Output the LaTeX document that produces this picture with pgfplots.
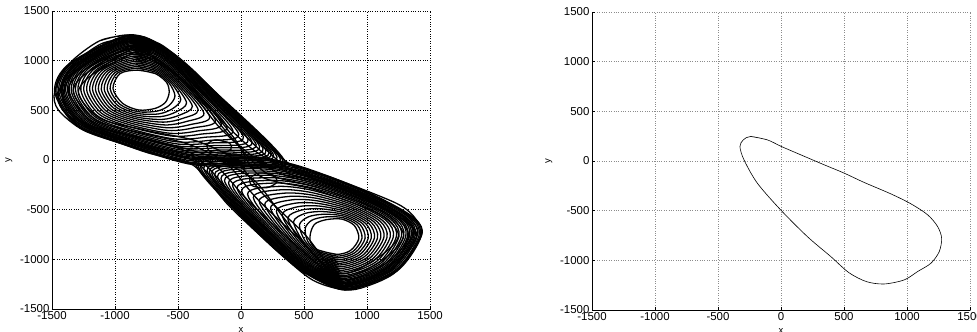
\documentclass[border=0pt]{standalone}
\usepackage{fontspec}
\setmainfont{Liberation Sans}
\usepackage{pgfplots}
\pgfplotsset{compat=1.18}
\pgfplotsset{myax/.style={
  scale only axis, width=378bp, height=298bp,
  xmin=-1500, xmax=1500, ymin=-1500, ymax=1500,
  xtick={-1500,-1000,...,1500}, ytick={-1500,-1000,...,1500},
  axis x line*=bottom, axis y line*=left,
  axis line style={black, line width=0.6pt},
  grid=major,
  tick align=inside, major tick length=3bp,
  tick style={black, line width=0.5pt},
  /pgf/number format/assume math mode=true,
  /pgf/number format/1000 sep={},
  tick label style={font=\fontsize{11.5}{12}\selectfont},
  xticklabel style={yshift=1.5bp},
  yticklabel style={xshift=1bp},
  label style={font=\fontsize{9.5}{10}\selectfont},
  xlabel={x}, ylabel={y},
  xlabel style={yshift=-2bp},
  ylabel style={yshift=1bp},
},
lp/.style={black, line width=1.3pt, smooth, no markers}}
\begin{document}
\begin{tikzpicture}
\path[use as bounding box] (0,0) rectangle (977bp,332bp);
\begin{axis}[myax, at={(52bp,23bp)}, anchor=south west, major grid style={dotted, black, line width=0.5pt}]
% left lobe nested loops
\addplot[lp] coordinates {(-820,905) (-680,870) (-590,780) (-570,680) (-600,580) (-680,520) (-810,503) (-940,570) (-1016,720) (-960,870) (-820,905) (-680,870)};
\addplot[lp] coordinates {(-824,923) (-677,884) (-571,775) (-524,645) (-572,548) (-667,492) (-817,486) (-959,559) (-1039,719) (-980,875) (-824,923) (-677,884)};
\addplot[lp] coordinates {(-828,940) (-674,898) (-551,770) (-478,610) (-544,516) (-654,464) (-824,469) (-977,548) (-1062,717) (-1000,880) (-828,940) (-674,898)};
\addplot[lp] coordinates {(-832,958) (-671,912) (-532,765) (-432,575) (-516,484) (-641,436) (-831,452) (-996,537) (-1086,716) (-1020,886) (-832,958) (-671,912)};
\addplot[lp] coordinates {(-835,976) (-668,926) (-512,760) (-386,540) (-488,452) (-628,408) (-838,435) (-1014,526) (-1109,714) (-1040,891) (-835,976) (-668,926)};
\addplot[lp] coordinates {(-839,994) (-665,940) (-493,755) (-340,505) (-460,420) (-615,381) (-845,419) (-1033,515) (-1132,713) (-1060,896) (-839,994) (-665,940)};
\addplot[lp] coordinates {(-843,1011) (-662,954) (-473,750) (-294,470) (-432,388) (-602,353) (-852,402) (-1051,504) (-1155,711) (-1080,901) (-843,1011) (-662,954)};
\addplot[lp] coordinates {(-847,1029) (-659,968) (-454,745) (-248,435) (-404,356) (-589,325) (-859,385) (-1070,493) (-1178,710) (-1100,906) (-847,1029) (-659,968)};
\addplot[lp] coordinates {(-851,1046) (-656,982) (-434,740) (-202,400) (-376,324) (-576,297) (-866,368) (-1088,482) (-1201,708) (-1120,911) (-851,1046) (-656,982)};
\addplot[lp] coordinates {(-855,1064) (-653,996) (-415,735) (-156,365) (-348,292) (-563,269) (-873,351) (-1107,471) (-1225,707) (-1140,917) (-855,1064) (-653,996)};
\addplot[lp] coordinates {(-859,1082) (-650,1010) (-395,730) (-110,330) (-320,260) (-550,241) (-880,334) (-1125,460) (-1248,705) (-1160,922) (-859,1082) (-650,1010)};
\addplot[lp] coordinates {(-863,1100) (-647,1024) (-376,725) (-64,295) (-292,228) (-537,213) (-887,317) (-1144,449) (-1271,704) (-1180,927) (-863,1100) (-647,1024)};
\addplot[lp] coordinates {(-866,1117) (-644,1038) (-356,720) (-18,260) (-264,196) (-524,185) (-894,300) (-1162,438) (-1294,702) (-1200,932) (-866,1117) (-644,1038)};
\addplot[lp] coordinates {(-869,1131) (-642,1049) (-341,716) (19,232) (-242,171) (-514,163) (-900,287) (-1177,429) (-1313,701) (-1216,936) (-869,1131) (-642,1049)};
\addplot[lp] coordinates {(-872,1145) (-639,1060) (-325,712) (56,204) (-219,145) (-503,141) (-905,273) (-1192,420) (-1331,700) (-1232,940) (-872,1145) (-639,1060)};
\addplot[lp] coordinates {(-875,1158) (-637,1070) (-312,709) (88,180) (-200,123) (-494,122) (-910,262) (-1205,413) (-1347,699) (-1246,944) (-875,1158) (-637,1070)};
\addplot[lp] coordinates {(-878,1170) (-635,1080) (-298,705) (120,155) (-180,100) (-485,102) (-915,250) (-1218,405) (-1363,698) (-1260,947) (-878,1170) (-635,1080)};
\addplot[lp] coordinates {(-880,1181) (-633,1089) (-286,702) (148,134) (-163,81) (-477,85) (-919,240) (-1229,399) (-1377,697) (-1272,950) (-880,1181) (-633,1089)};
\addplot[lp] coordinates {(-882,1191) (-631,1097) (-274,699) (175,113) (-146,62) (-469,68) (-923,229) (-1240,392) (-1391,696) (-1284,953) (-882,1191) (-631,1097)};
\addplot[lp] coordinates {(-884,1200) (-630,1104) (-265,697) (198,96) (-132,46) (-463,54) (-927,221) (-1249,387) (-1403,695) (-1294,956) (-884,1200) (-630,1104)};
\addplot[lp] coordinates {(-886,1209) (-628,1111) (-255,694) (221,78) (-118,30) (-456,40) (-930,212) (-1258,381) (-1414,694) (-1304,959) (-886,1209) (-628,1111)};
\addplot[lp] coordinates {(-888,1216) (-627,1117) (-247,692) (240,64) (-107,17) (-451,29) (-933,206) (-1266,377) (-1424,694) (-1312,961) (-888,1216) (-627,1117)};
\addplot[lp] coordinates {(-889,1223) (-626,1122) (-239,690) (258,50) (-96,4) (-446,18) (-936,199) (-1273,372) (-1433,693) (-1320,963) (-889,1223) (-626,1122)};
\addplot[lp] coordinates {(-892,1233) (-624,1130) (-227,687) (286,29) (-79,-15) (-438,1) (-940,189) (-1284,365) (-1447,692) (-1332,966) (-892,1233) (-624,1130)};
\addplot[lp] coordinates {(-894,1244) (-622,1139) (-216,684) (313,8) (-62,-34) (-430,-16) (-944,179) (-1295,359) (-1460,691) (-1344,969) (-894,1244) (-622,1139)};
\addplot[lp] coordinates {(-895,1251) (-621,1144) (-208,682) (332,-6) (-51,-47) (-425,-27) (-947,172) (-1303,354) (-1470,691) (-1352,971) (-895,1251) (-621,1144)};
\addplot[lp] coordinates {(-897,1258) (-620,1150) (-200,680) (350,-20) (-40,-60) (-420,-38) (-950,165) (-1310,350) (-1479,690) (-1360,973) (-897,1258) (-620,1150)};
% right lobe nested loops
\addplot[lp] coordinates {(760,-950) (610,-905) (550,-820) (555,-720) (590,-640) (680,-600) (800,-595) (900,-660) (935,-790) (870,-910) (760,-950) (610,-905)};
\addplot[lp] coordinates {(763,-968) (604,-916) (528,-814) (510,-686) (563,-606) (669,-573) (808,-580) (923,-655) (960,-789) (889,-921) (763,-968) (604,-916)};
\addplot[lp] coordinates {(766,-986) (597,-926) (505,-807) (464,-652) (535,-572) (657,-546) (816,-565) (945,-650) (985,-787) (907,-931) (766,-986) (597,-926)};
\addplot[lp] coordinates {(770,-1004) (591,-937) (483,-801) (418,-618) (508,-538) (646,-519) (824,-551) (968,-645) (1010,-786) (925,-942) (770,-1004) (591,-937)};
\addplot[lp] coordinates {(773,-1022) (584,-947) (460,-794) (372,-583) (480,-504) (634,-491) (832,-536) (990,-640) (1034,-784) (943,-952) (773,-1022) (584,-947)};
\addplot[lp] coordinates {(776,-1040) (578,-958) (438,-788) (327,-549) (453,-470) (623,-464) (840,-521) (1013,-635) (1059,-783) (962,-963) (776,-1040) (578,-958)};
\addplot[lp] coordinates {(779,-1057) (571,-969) (415,-782) (281,-515) (425,-436) (611,-437) (848,-506) (1035,-630) (1084,-781) (980,-973) (779,-1057) (571,-969)};
\addplot[lp] coordinates {(782,-1075) (565,-980) (393,-776) (235,-481) (398,-402) (600,-410) (856,-491) (1058,-625) (1109,-780) (998,-984) (782,-1075) (565,-980)};
\addplot[lp] coordinates {(785,-1093) (558,-990) (370,-769) (189,-446) (370,-368) (588,-383) (864,-476) (1080,-620) (1134,-778) (1016,-994) (785,-1093) (558,-990)};
\addplot[lp] coordinates {(789,-1111) (552,-1001) (348,-763) (144,-412) (343,-334) (577,-356) (872,-462) (1103,-615) (1159,-777) (1035,-1005) (789,-1111) (552,-1001)};
\addplot[lp] coordinates {(792,-1129) (545,-1011) (325,-756) (98,-378) (315,-300) (565,-329) (880,-447) (1125,-610) (1184,-775) (1053,-1015) (792,-1129) (545,-1011)};
\addplot[lp] coordinates {(795,-1147) (539,-1022) (303,-750) (52,-344) (288,-266) (554,-302) (888,-432) (1148,-605) (1209,-774) (1071,-1026) (795,-1147) (539,-1022)};
\addplot[lp] coordinates {(798,-1165) (532,-1032) (280,-743) (6,-309) (260,-232) (542,-274) (896,-417) (1170,-600) (1233,-772) (1089,-1036) (798,-1165) (532,-1032)};
\addplot[lp] coordinates {(801,-1179) (527,-1041) (262,-738) (-31,-282) (238,-205) (533,-253) (903,-405) (1188,-596) (1253,-771) (1104,-1045) (801,-1179) (527,-1041)};
\addplot[lp] coordinates {(803,-1193) (522,-1049) (244,-733) (-67,-254) (216,-178) (524,-231) (909,-393) (1206,-592) (1273,-770) (1118,-1053) (803,-1193) (522,-1049)};
\addplot[lp] coordinates {(805,-1206) (518,-1057) (229,-729) (-99,-230) (197,-154) (516,-212) (915,-383) (1222,-589) (1291,-769) (1131,-1061) (805,-1206) (518,-1057)};
\addplot[lp] coordinates {(807,-1219) (513,-1064) (213,-724) (-131,-206) (178,-130) (508,-193) (920,-372) (1238,-585) (1308,-768) (1144,-1068) (807,-1219) (513,-1064)};
\addplot[lp] coordinates {(809,-1230) (509,-1071) (200,-720) (-159,-186) (162,-110) (501,-177) (925,-363) (1252,-582) (1323,-767) (1155,-1074) (809,-1230) (509,-1071)};
\addplot[lp] coordinates {(811,-1240) (505,-1077) (186,-716) (-186,-165) (146,-89) (494,-160) (930,-354) (1265,-579) (1338,-766) (1166,-1080) (811,-1240) (505,-1077)};
\addplot[lp] coordinates {(813,-1249) (502,-1082) (175,-713) (-209,-148) (132,-72) (488,-147) (934,-347) (1276,-577) (1350,-765) (1175,-1086) (813,-1249) (502,-1082)};
\addplot[lp] coordinates {(814,-1258) (498,-1087) (163,-710) (-232,-131) (117,-55) (482,-133) (938,-340) (1287,-574) (1362,-764) (1184,-1091) (814,-1258) (498,-1087)};
\addplot[lp] coordinates {(816,-1265) (496,-1092) (154,-708) (-251,-118) (106,-42) (478,-122) (941,-334) (1296,-572) (1372,-764) (1192,-1095) (816,-1265) (496,-1092)};
\addplot[lp] coordinates {(817,-1272) (493,-1096) (145,-705) (-269,-104) (95,-28) (473,-111) (944,-328) (1305,-570) (1382,-763) (1199,-1099) (817,-1272) (493,-1096)};
\addplot[lp] coordinates {(819,-1283) (489,-1102) (132,-701) (-296,-83) (78,-8) (466,-95) (949,-319) (1319,-567) (1397,-762) (1209,-1105) (819,-1283) (489,-1102)};
\addplot[lp] coordinates {(820,-1294) (485,-1109) (118,-697) (-323,-62) (62,13) (459,-79) (954,-310) (1332,-564) (1412,-761) (1220,-1112) (820,-1294) (485,-1109)};
\addplot[lp] coordinates {(822,-1301) (483,-1113) (109,-695) (-342,-49) (51,27) (455,-68) (957,-304) (1341,-562) (1422,-761) (1228,-1116) (822,-1301) (483,-1113)};
\addplot[lp] coordinates {(823,-1308) (480,-1117) (100,-692) (-360,-35) (40,40) (450,-57) (960,-298) (1350,-560) (1432,-760) (1235,-1120) (823,-1308) (480,-1117)};
% transfer loops
\addplot[lp] coordinates {(-897,1258) (-1122,1200) (-1360,973) (-1479,690) (-1450,504) (-1254,302) (-950,165) (-725,67) (-381,-51) (-90,-468) (307,-937) (569,-1209) (823,-1308) (1000,-1270) (1235,-1120) (1432,-760) (1392,-602) (1235,-437) (704,-169) (360,-17) (-381,906) (-645,1158) (-897,1258) (-1122,1200)};
\addplot[lp] coordinates {(-890,1225) (-1110,1170) (-1330,960) (-1445,690) (-1420,510) (-1235,330) (-940,195) (-715,98) (-360,-20) (-60,-440) (320,-900) (570,-1175) (815,-1275) (990,-1238) (1205,-1095) (1398,-760) (1360,-620) (1205,-460) (690,-200) (330,-45) (-410,880) (-660,1125) (-890,1225) (-1110,1170)};
\addplot[lp] coordinates {(-880,1190) (-1090,1135) (-1300,940) (-1410,690) (-1385,515) (-1215,355) (-930,225) (-700,130) (-340,10) (-30,-410) (335,-862) (570,-1140) (808,-1240) (980,-1205) (1175,-1070) (1365,-760) (1328,-630) (1178,-480) (675,-228) (300,-70) (-440,850) (-675,1095) (-880,1190) (-1090,1135)};
\addplot[lp] coordinates {(-870,1150) (-1250,900) (-1370,690) (-1180,380) (-900,250) (-500,120) (-200,-60) (50,-400) (400,-820) (800,-1200) (1150,-1040) (1330,-760) (1150,-500) (650,-260) (250,-100) (-150,300) (-480,820) (-870,1150) (-1250,900)};
\addplot[lp] coordinates {(-860,1120) (-1220,880) (-1330,680) (-1150,400) (-820,280) (-420,160) (-120,-30) (120,-380) (450,-780) (790,-1170) (1120,-1010) (1290,-760) (1120,-520) (620,-280) (200,-130) (-100,260) (-450,790) (-860,1120) (-1220,880)};
\addplot[lp] coordinates {(-850,1080) (-1180,860) (-1290,670) (-1120,420) (-760,300) (-350,190) (-50,0) (180,-350) (500,-740) (780,-1140) (1090,-980) (1250,-760) (1090,-540) (590,-300) (150,-160) (-60,230) (-420,760) (-850,1080) (-1180,860)};
\addplot[lp] coordinates {(-880,1240) (-1400,800) (-1300,400) (-700,200) (-250,40) (100,-200) (350,-600) (650,-1050) (900,-1250) (1300,-950) (1380,-700) (1000,-400) (500,-150) (100,100) (-300,600) (-600,1100) (-880,1240) (-1400,800)};
% small loops near centre
\addplot[lp] coordinates {(-63,60) (20,30) (30,-20) (-30,-60) (-120,-40) (-150,10) (-100,55) (-63,60) (20,30)};
\addplot[lp] coordinates {(175,-130) (270,-160) (280,-230) (200,-280) (90,-260) (70,-190) (120,-140) (175,-130) (270,-160)};
\addplot[lp] coordinates {(-180,200) (-90,170) (-80,110) (-150,70) (-250,90) (-270,150) (-230,195) (-180,200) (-90,170)};
\end{axis}
\begin{axis}[myax, at={(592bp,22bp)}, anchor=south west, major grid style={dotted, black!45, line width=0.5pt}]
\addplot[black, line width=0.6pt, smooth, no markers] coordinates {
(-241,247) (-109,213) (3,146) (157,62) (342,-38) (501,-122) (660,-216) (872,-331) (1031,-431) (1164,-542) (1243,-660) (1275,-777) (1256,-912) (1190,-1029) (1084,-1113) (978,-1197) (819,-1238) (680,-1215) (540,-1125) (395,-962) (209,-761) (-3,-492) (-188,-223) (-294,12) (-326,146) (-299,213) (-241,247) (-109,213)};
\end{axis}
\end{tikzpicture}
\end{document}
